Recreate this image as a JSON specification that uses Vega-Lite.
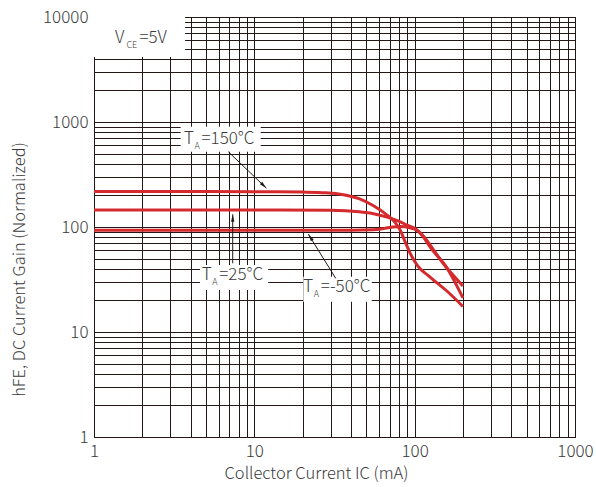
{
  "$schema": "https://vega.github.io/schema/vega-lite/v6.json",
  "width": 481,
  "height": 420,
  "autosize": {"type": "none"},
  "padding": {"left": 94, "top": 17, "right": 21, "bottom": 50},
  "background": "white",
  "config": {
    "font": "Noto Sans CJK SC",
    "view": {"stroke": "#231815", "strokeWidth": 1},
    "text": {"fontWeight": 300},
    "axis": {
      "grid": true,
      "gridColor": "#231815",
      "gridWidth": 1,
      "gridOpacity": 1,
      "ticks": false,
      "domainColor": "#231815",
      "labelFontSize": 17,
      "labelFontWeight": 300,
      "labelColor": "#3a3a3a",
      "labelOverlap": false,
      "labelBound": false,
      "labelFlush": false,
      "titleFontSize": 16.5,
      "titleFontWeight": 300,
      "titleColor": "#3a3a3a",
      "labelExpr": "indexof([1,10,100,1000,10000], datum.value) >= 0 ? format(datum.value, 'd') : ''"
    }
  },
  "datasets": {
    "curves": [
      {"Ic": 1, "hfe": 218, "T": "150"},
      {"Ic": 5, "hfe": 218, "T": "150"},
      {"Ic": 10, "hfe": 217, "T": "150"},
      {"Ic": 20, "hfe": 215, "T": "150"},
      {"Ic": 28, "hfe": 212, "T": "150"},
      {"Ic": 36, "hfe": 203, "T": "150"},
      {"Ic": 45, "hfe": 186, "T": "150"},
      {"Ic": 55, "hfe": 160, "T": "150"},
      {"Ic": 67.3, "hfe": 130, "T": "150"},
      {"Ic": 75, "hfe": 112, "T": "150"},
      {"Ic": 81, "hfe": 94, "T": "150"},
      {"Ic": 88, "hfe": 70, "T": "150"},
      {"Ic": 93.6, "hfe": 56.5, "T": "150"},
      {"Ic": 103.5, "hfe": 43.4, "T": "150"},
      {"Ic": 124.7, "hfe": 33.4, "T": "150"},
      {"Ic": 160, "hfe": 24.3, "T": "150"},
      {"Ic": 200, "hfe": 17.5, "T": "150"},
      {"Ic": 1, "hfe": 145, "T": "25"},
      {"Ic": 10, "hfe": 145, "T": "25"},
      {"Ic": 30, "hfe": 144, "T": "25"},
      {"Ic": 45, "hfe": 140, "T": "25"},
      {"Ic": 52.7, "hfe": 136, "T": "25"},
      {"Ic": 67.3, "hfe": 124, "T": "25"},
      {"Ic": 80, "hfe": 113, "T": "25"},
      {"Ic": 89.7, "hfe": 104, "T": "25"},
      {"Ic": 103.5, "hfe": 93.6, "T": "25"},
      {"Ic": 115, "hfe": 78, "T": "25"},
      {"Ic": 124.7, "hfe": 64.6, "T": "25"},
      {"Ic": 159, "hfe": 40.7, "T": "25"},
      {"Ic": 200, "hfe": 21.1, "T": "25"},
      {"Ic": 1, "hfe": 93, "T": "-50"},
      {"Ic": 10, "hfe": 93, "T": "-50"},
      {"Ic": 40, "hfe": 93, "T": "-50"},
      {"Ic": 55, "hfe": 94, "T": "-50"},
      {"Ic": 65, "hfe": 97, "T": "-50"},
      {"Ic": 73.3, "hfe": 100, "T": "-50"},
      {"Ic": 82, "hfe": 101, "T": "-50"},
      {"Ic": 93.6, "hfe": 98, "T": "-50"},
      {"Ic": 103.5, "hfe": 93, "T": "-50"},
      {"Ic": 115, "hfe": 80, "T": "-50"},
      {"Ic": 124.7, "hfe": 67.4, "T": "-50"},
      {"Ic": 150, "hfe": 45.4, "T": "-50"},
      {"Ic": 200, "hfe": 27.4, "T": "-50"}
    ],
    "boxes": [
      {"x1": 1, "x2": 3.7, "y1": 10000, "y2": 4160},
      {"x1": 3.47, "x2": 10.96, "y1": 902, "y2": 521},
      {"x1": 4.58, "x2": 12.2, "y1": 43.5, "y2": 25.1},
      {"x1": 20.2, "x2": 54, "y1": 33.6, "y2": 19.4}
    ],
    "arrows": [
      {"id": "150", "x1": 6.88, "y1": 521, "x2": 11.9, "y2": 234},
      {"id": "25", "x1": 7.33, "y1": 45.1, "x2": 7.33, "y2": 132},
      {"id": "-50", "x1": 32.2, "y1": 32.4, "x2": 21.7, "y2": 85.8}
    ],
    "tlabels": [
      {"x": 3.64, "y": 689, "main": "T", "sub": "A", "rest": "=150°C"},
      {"x": 4.7, "y": 34.9, "main": "T", "sub": "A", "rest": "=25°C"},
      {"x": 20.2, "y": 27.0, "main": "T", "sub": "A", "rest": "=-50°C"}
    ],
    "vlabel": [
      {"x": 1.35, "y": 6270, "main": "V", "sub": "CE", "rest": "=5V"}
    ]
  },
  "layer": [
    {
      "data": {"name": "boxes"},
      "mark": {"type": "rect", "fill": "white", "stroke": null},
      "encoding": {
        "x": {"field": "x1", "type": "quantitative", "scale": {"type": "log", "domain": [1, 1000], "nice": false},
          "axis": {"title": "Collector Current  IC (mA)", "values": [1,2,3,4,5,6,7,8,9,10,20,30,40,50,60,70,80,90,100,200,300,400,500,600,700,800,900,1000], "labelPadding": 6, "titleX": 222, "titleY": 36, "titleAlign": "center", "titleBaseline": "middle"}},
        "x2": {"field": "x2"},
        "y": {"field": "y1", "type": "quantitative", "scale": {"type": "log", "domain": [1, 10000], "nice": false},
          "axis": {"title": "hFE, DC Current Gain (Normalized)", "values": [1,2,3,4,5,6,7,8,9,10,20,30,40,50,60,70,80,90,100,200,300,400,500,600,700,800,900,1000,2000,3000,4000,5000,6000,7000,8000,9000,10000], "labelPadding": 6, "titleX": -75, "titleY": 252, "titleAlign": "center", "titleBaseline": "middle", "titleAngle": 270}},
        "y2": {"field": "y2"}
      }
    },
    {
      "data": {"name": "curves"},
      "mark": {"type": "line", "color": "#d42a2e", "strokeWidth": 3, "interpolate": "monotone"},
      "encoding": {
        "x": {"field": "Ic", "type": "quantitative", "scale": {"type": "log", "domain": [1, 1000], "nice": false}},
        "y": {"field": "hfe", "type": "quantitative", "scale": {"type": "log", "domain": [1, 10000], "nice": false}},
        "detail": {"field": "T", "type": "nominal"}
      }
    },
    {
      "data": {"name": "arrows"},
      "mark": {"type": "rule", "color": "#231815", "strokeWidth": 1},
      "encoding": {
        "x": {"field": "x1", "type": "quantitative"},
        "y": {"field": "y1", "type": "quantitative"},
        "x2": {"field": "x2"},
        "y2": {"field": "y2"}
      }
    },
    {
      "data": {"name": "arrows"},
      "transform": [{"filter": "datum.id == '150'"}],
      "mark": {"type": "point", "shape": "M0,0L-0.4,1.8L0.4,1.8Z", "filled": true, "color": "#231815", "size": 70, "opacity": 1, "angle": 134},
      "encoding": {
        "x": {"field": "x2", "type": "quantitative"},
        "y": {"field": "y2", "type": "quantitative"}
      }
    },
    {
      "data": {"name": "arrows"},
      "transform": [{"filter": "datum.id == '25'"}],
      "mark": {"type": "point", "shape": "M0,0L-0.4,1.8L0.4,1.8Z", "filled": true, "color": "#231815", "size": 70, "opacity": 1, "angle": 0},
      "encoding": {
        "x": {"field": "x2", "type": "quantitative"},
        "y": {"field": "y2", "type": "quantitative"}
      }
    },
    {
      "data": {"name": "arrows"},
      "transform": [{"filter": "datum.id == '-50'"}],
      "mark": {"type": "point", "shape": "M0,0L-0.4,1.8L0.4,1.8Z", "filled": true, "color": "#231815", "size": 70, "opacity": 1, "angle": 328},
      "encoding": {
        "x": {"field": "x2", "type": "quantitative"},
        "y": {"field": "y2", "type": "quantitative"}
      }
    },
    {
      "data": {"name": "tlabels"},
      "mark": {"type": "text", "align": "left", "baseline": "middle", "fontSize": 17, "color": "#3a3a3a"},
      "encoding": {
        "x": {"field": "x", "type": "quantitative"},
        "y": {"field": "y", "type": "quantitative"},
        "text": {"field": "main"}
      }
    },
    {
      "data": {"name": "tlabels"},
      "mark": {"type": "text", "align": "left", "baseline": "middle", "fontSize": 9, "dx": 10.5, "dy": 7, "color": "#3a3a3a"},
      "encoding": {
        "x": {"field": "x", "type": "quantitative"},
        "y": {"field": "y", "type": "quantitative"},
        "text": {"field": "sub"}
      }
    },
    {
      "data": {"name": "tlabels"},
      "mark": {"type": "text", "align": "left", "baseline": "middle", "fontSize": 17, "dx": 17.5, "color": "#3a3a3a"},
      "encoding": {
        "x": {"field": "x", "type": "quantitative"},
        "y": {"field": "y", "type": "quantitative"},
        "text": {"field": "rest"}
      }
    },
    {
      "data": {"name": "vlabel"},
      "mark": {"type": "text", "align": "left", "baseline": "middle", "fontSize": 17, "color": "#3a3a3a"},
      "encoding": {
        "x": {"field": "x", "type": "quantitative"},
        "y": {"field": "y", "type": "quantitative"},
        "text": {"field": "main"}
      }
    },
    {
      "data": {"name": "vlabel"},
      "mark": {"type": "text", "align": "left", "baseline": "middle", "fontSize": 9, "dx": 11.5, "dy": 7, "color": "#3a3a3a"},
      "encoding": {
        "x": {"field": "x", "type": "quantitative"},
        "y": {"field": "y", "type": "quantitative"},
        "text": {"field": "sub"}
      }
    },
    {
      "data": {"name": "vlabel"},
      "mark": {"type": "text", "align": "left", "baseline": "middle", "fontSize": 17, "dx": 24.5, "color": "#3a3a3a"},
      "encoding": {
        "x": {"field": "x", "type": "quantitative"},
        "y": {"field": "y", "type": "quantitative"},
        "text": {"field": "rest"}
      }
    }
  ]
}
